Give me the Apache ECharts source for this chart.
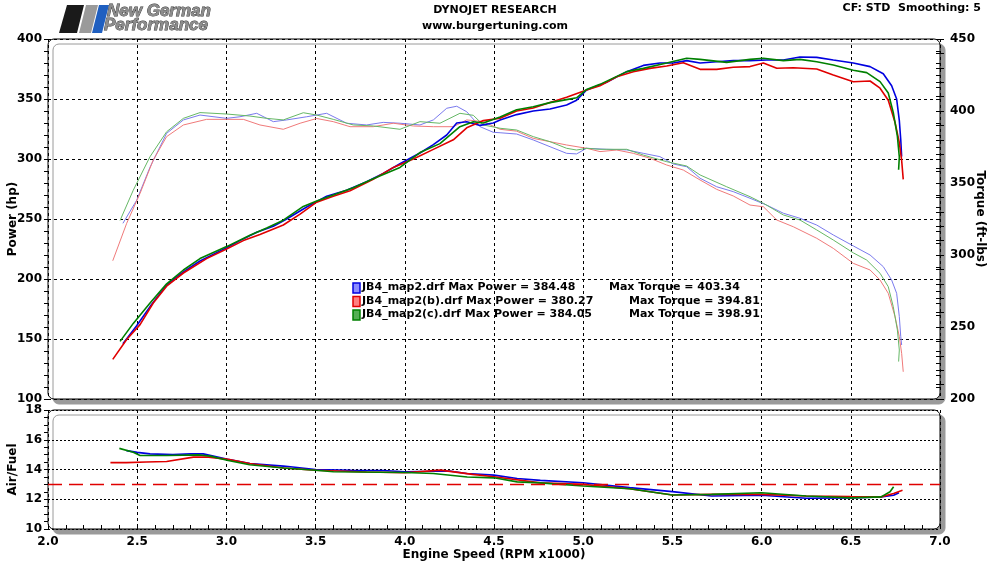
<!DOCTYPE html>
<html><head><meta charset="utf-8">
<script src="https://cdn.jsdelivr.net/npm/echarts@6/dist/echarts.min.js"></script>
<style>html,body{margin:0;padding:0;background:#fff}#c{width:990px;height:562px}</style>
</head><body><div id="c"></div>
<script>
// ---------- data ----------
const runNames = ['JB4_map2.drf', 'JB4_map2(b).drf', 'JB4_map2(c).drf'];
const maxPower = ['384.48', '380.27', '384.05'];
const maxTorque = ['403.34', '394.81', '398.91'];

const blueRpm = [2.42,2.497,2.572,2.665,2.759,2.852,3.001,3.076,3.170,3.263,3.338,3.450,3.562,3.674,3.786,3.879,3.973,4.085,4.160,4.235,4.291,4.347,4.422,4.496,4.534,4.627,4.720,4.814,4.907,4.963,5.019,5.131,5.244,5.337,5.430,5.505,5.580,5.655,5.748,5.841,5.935,6.028,6.122,6.215,6.309,6.402,6.514,6.608,6.682,6.729,6.757,6.772,6.780,6.785];
const bluePower = [146,161,177,195,206,215,226,232,239,244,250,260,269,274,281,288,296,305,312,320,330,331,328,330,332.5,337,340,341.7,345,349,357.5,364,372.8,378,380,380,382,380,381,382,382,382.5,382.5,385,384.7,382.5,380,377,371,361,350,332,316,302];
const blueTorque = [322,338,361,384.5,393.8,397.2,394.9,396,398.4,392.6,393.8,396,398.4,391.5,390.3,392.1,391.5,390.3,393.8,401.9,403.3,399.5,389.1,385.2,384.9,384,379.9,375.2,370.6,370.2,374.1,373.4,373,370.6,368.3,363.2,361.3,353.3,347.4,344,339.4,334.7,329,325.5,320.8,313.9,306.3,300,291.9,282.6,273.4,257.2,243.3,237.5];

const redRpm = [2.363,2.441,2.516,2.590,2.665,2.759,2.889,3.001,3.095,3.188,3.319,3.413,3.506,3.599,3.693,3.823,3.936,4.048,4.160,4.272,4.347,4.440,4.534,4.627,4.720,4.814,4.907,5.019,5.094,5.188,5.281,5.374,5.468,5.561,5.655,5.748,5.841,5.935,6.010,6.085,6.178,6.309,6.402,6.514,6.608,6.664,6.710,6.748,6.772,6.785,6.794];
const redPower = [133,149.6,162,180,194,205,217,225,232,237,245,254,264,269,273.6,283,293,300,308,316,326,332,334,340,342.5,347,351.5,357.5,361,368.6,372.7,375.5,377.5,380.2,374.7,374.7,376.4,377,380,375.6,376,375,370,364.4,365,359,349,330.5,313.7,299,283];
const redTorque = [296,322,342.8,366,382.2,390.3,394.2,394.2,394.2,390.3,387.3,391.5,394.8,392.6,389.1,389.1,391.5,389.6,389.1,389.1,393.8,392.6,387.3,386,381,378.7,376.4,374.1,371.8,372.9,370.6,367.2,362.5,359,352.1,345.6,341,334.7,333.5,324.3,319.6,311.6,304.6,294.2,289.6,282.6,273.4,257.2,243.3,231.7,218.9];

const greenRpm = [2.404,2.478,2.572,2.665,2.759,2.852,3.001,3.132,3.226,3.319,3.431,3.506,3.599,3.711,3.823,3.973,4.085,4.197,4.309,4.384,4.440,4.534,4.627,4.720,4.814,4.907,4.963,5.019,5.094,5.244,5.337,5.468,5.580,5.655,5.804,5.935,6.010,6.122,6.215,6.309,6.402,6.514,6.589,6.664,6.710,6.738,6.761,6.772,6.768];
const greenPower = [148,163,180,196,207.5,217,227,236.5,242.5,249,260.5,265,270,276,283.6,293,305.4,312.8,326.9,331,330,335,341,343.5,347,349.5,351,358,362.2,372.8,375.5,380,384,383,380.5,383,384,382,383,381,378.4,374,372,364.5,355,338.8,319,301.7,291];
const greenTorque = [324,345,368.3,385.6,394.9,398.9,397.9,396.5,394.9,393.8,398.8,397.2,394.2,390.3,389.6,387.3,392.6,391.5,398.4,397,390.3,388,386.8,382.2,378.7,374.1,372.9,374.1,373.4,373.4,369.4,364.8,361.8,355.6,347.4,340.5,335.9,327.8,324.3,317.4,310.4,301.5,296.5,287.3,278,264.1,248,234,226];

const blueAfrRpm = [2.44,2.50,2.572,2.70,2.80,2.87,3.007,3.132,3.32,3.5,3.70,3.879,4.0,4.159,4.25,4.347,4.5,4.63,4.76,5.0,5.26,5.5,5.72,6.0,6.25,6.5,6.67,6.74,6.77];
const blueAfr = [15.27,15.15,15.05,15.0,15.05,15.05,14.68,14.4,14.23,14.0,13.95,13.93,13.85,13.88,13.9,13.73,13.62,13.4,13.27,13.11,12.78,12.51,12.22,12.27,12.07,12.09,12.16,12.27,12.44];
const redAfrRpm = [2.35,2.44,2.55,2.665,2.815,2.90,3.01,3.13,3.32,3.5,3.786,4.0,4.2,4.38,4.5,4.76,5.0,5.26,5.5,5.72,6.0,6.25,6.5,6.67,6.74,6.79];
const redAfr = [14.46,14.46,14.5,14.54,14.83,14.83,14.68,14.4,14.1,13.95,13.83,13.78,13.96,13.67,13.51,13.1,13.0,12.71,12.29,12.33,12.33,12.22,12.18,12.16,12.38,12.6];
const greenAfrRpm = [2.40,2.478,2.516,2.665,2.85,2.91,3.01,3.13,3.32,3.5,3.6,4.0,4.16,4.35,4.5,4.63,4.76,5.0,5.26,5.5,5.72,6.0,6.25,6.5,6.67,6.72,6.74];
const greenAfr = [15.42,15.16,14.94,14.94,14.98,14.9,14.6,14.32,14.1,13.95,13.85,13.8,13.73,13.5,13.44,13.17,13.1,12.89,12.71,12.29,12.33,12.44,12.22,12.09,12.16,12.5,12.84];

const afrTarget = 13;

const xRange = [2.0, 7.0, 0.5];
const powerRange = [100, 400, 50];
const torqueRange = [200, 450, 50];
const afrRange = [10, 18, 2];

const headerTitle = 'DYNOJET RESEARCH';
const headerSite = 'www.burgertuning.com';
const headerRight = 'CF: STD  Smoothing: 5';

// ---------- chart ----------
const FONT = '"DejaVu Sans", Verdana, sans-serif';
const zip = (a, b) => a.map((v, i) => [v, b[i]]);

const powerColors = ['#0000e0', '#e00000', '#008000'];
const torqueColors = ['#7a7aee', '#f07a7a', '#66b866'];
const legendFill = ['#8c8cff', '#ff8080', '#55b055'];

const runs = [
  {rpm: blueRpm, p: bluePower, t: blueTorque, arpm: blueAfrRpm, a: blueAfr},
  {rpm: redRpm, p: redPower, t: redTorque, arpm: redAfrRpm, a: redAfr},
  {rpm: greenRpm, p: greenPower, t: greenTorque, arpm: greenAfrRpm, a: greenAfr}
];

const series = [];
runs.forEach((r, i) => {
  series.push({type: 'line', xAxisIndex: 0, yAxisIndex: 1, data: zip(r.rpm, r.t),
    showSymbol: false, lineStyle: {width: 1, color: torqueColors[i]}, z: 3});
});
runs.forEach((r, i) => {
  series.push({type: 'line', xAxisIndex: 0, yAxisIndex: 0, data: zip(r.rpm, r.p),
    showSymbol: false, lineStyle: {width: 1.6, color: powerColors[i]}, z: 4});
});
runs.forEach((r, i) => {
  const s = {type: 'line', xAxisIndex: 1, yAxisIndex: 2, data: zip(r.arpm, r.a),
    showSymbol: false, lineStyle: {width: 1.6, color: powerColors[i]}, z: 4};
  if (i === 1) {
    s.markLine = {silent: true, symbol: ['none', 'none'], label: {show: false},
      lineStyle: {color: '#e00000', width: 1.4, type: [14, 7]},
      data: [{yAxis: afrTarget}]};
  }
  series.push(s);
});

const dashed = {show: true, lineStyle: {color: '#000', width: 1, type: [3, 3]}};
const dotted = {show: true, lineStyle: {color: '#000', width: 1, type: [2, 2]}};
const lbl = {color: '#000', fontFamily: FONT, fontWeight: 'bold', fontSize: 12};
const nameSty = {color: '#000', fontFamily: FONT, fontWeight: 'bold', fontSize: 12};

const legendGraphics = [];
runNames.forEach((n, i) => {
  const y = 283 + i * 13.5;
  legendGraphics.push({type: 'rect', shape: {x: 353, y: y, width: 7, height: 10},
    style: {fill: legendFill[i], stroke: powerColors[i], lineWidth: 1.5}, z: 20});
  legendGraphics.push({type: 'text', x: 362, y: y - 1, z: 20,
    style: {text: n + ' Max Power = ' + maxPower[i], fill: '#000',
      fontFamily: FONT, fontWeight: 'bold', fontSize: 11}});
  legendGraphics.push({type: 'text', x: i === 0 ? 609 : 629, y: y - 1, z: 20,
    style: {text: 'Max Torque = ' + maxTorque[i], fill: '#000',
      fontFamily: FONT, fontWeight: 'bold', fontSize: 11}});
});

const frame = (x, y, w, h) => ({type: 'rect', z: -10,
  shape: {x: x, y: y, width: w, height: h, r: 6},
  style: {fill: '#fff', stroke: '#000', lineWidth: 1,
    shadowColor: '#9a9a9a', shadowOffsetX: 5, shadowOffsetY: 5, shadowBlur: 0}});

const graphics = [
  frame(48, 39, 892, 360),
  frame(48, 410, 892, 119),
  // logo
  {type: 'polygon', shape: {points: [[67,5],[84,5],[77,33],[59,33]]}, style: {fill: '#1a1a1a'}},
  {type: 'polygon', shape: {points: [[86,5],[98,5],[91,33],[79,33]]}, style: {fill: '#9a9a9a'}},
  {type: 'polygon', shape: {points: [[99,5],[109,5],[102,33],[92,33]]}, style: {fill: '#1f5fc0'}},
  {type: 'text', x: 107, y: 3, style: {text: 'New German', fill: '#8c8c8c', stroke: '#333', lineWidth: 0.8,
    fontFamily: '"Liberation Sans", Arial, sans-serif', fontStyle: 'italic', fontWeight: 'bold', fontSize: 17}},
  {type: 'text', x: 104, y: 17, style: {text: 'Performance', fill: '#8c8c8c', stroke: '#333', lineWidth: 0.8,
    fontFamily: '"Liberation Sans", Arial, sans-serif', fontStyle: 'italic', fontWeight: 'bold', fontSize: 17}},
  // header
  {type: 'text', x: 495, y: 10, style: {text: headerTitle, fill: '#000', align: 'center', verticalAlign: 'middle',
    fontFamily: FONT, fontWeight: 'bold', fontSize: 11}},
  {type: 'text', x: 495, y: 26, style: {text: headerSite, fill: '#000', align: 'center', verticalAlign: 'middle',
    fontFamily: FONT, fontWeight: 'bold', fontSize: 11}},
  {type: 'text', x: 981, y: 8, style: {text: headerRight, fill: '#000', align: 'right', verticalAlign: 'middle',
    fontFamily: FONT, fontWeight: 'bold', fontSize: 11}}
].concat(legendGraphics);

const option = {
  animation: false,
  backgroundColor: '#fff',
  grid: [
    {left: 48, top: 39, width: 892, height: 360, containLabel: false, outerBoundsMode: 'none'},
    {left: 48, top: 410, width: 892, height: 119, containLabel: false, outerBoundsMode: 'none'}
  ],
  xAxis: [
    {gridIndex: 0, type: 'value', min: xRange[0], max: xRange[1], interval: xRange[2],
      axisLabel: {show: false}, axisLine: {show: false}, axisTick: {show: false}, splitLine: dashed},
    {gridIndex: 1, type: 'value', min: xRange[0], max: xRange[1], interval: xRange[2],
      axisLabel: Object.assign({formatter: v => v.toFixed(1), margin: 7}, lbl),
      axisLine: {show: false},
      axisTick: {show: true, inside: true, length: 4, lineStyle: {color: '#000'}},
      minorTick: {show: true, splitNumber: 5, length: 4, lineStyle: {color: '#000'}},
      splitLine: dashed,
      name: 'Engine Speed (RPM x1000)', nameLocation: 'middle', nameGap: 20, nameMoveOverlap: false, nameTextStyle: nameSty}
  ],
  yAxis: [
    {gridIndex: 0, type: 'value', min: powerRange[0], max: powerRange[1], interval: powerRange[2],
      axisLabel: Object.assign({margin: 6}, lbl), axisLine: {show: false},
      axisTick: {show: true, length: 4, lineStyle: {color: '#000'}},
      minorTick: {show: true, splitNumber: 5, length: 4, lineStyle: {color: '#000'}},
      splitLine: dashed,
      name: 'Power (hp)', nameLocation: 'middle', nameGap: 29, nameMoveOverlap: false, nameTextStyle: nameSty},
    {gridIndex: 0, type: 'value', position: 'right', min: torqueRange[0], max: torqueRange[1], interval: torqueRange[2],
      axisLabel: Object.assign({margin: 10}, lbl), axisLine: {show: false},
      axisTick: {show: true, length: 4, lineStyle: {color: '#000'}},
      minorTick: {show: true, splitNumber: 5, length: 4, lineStyle: {color: '#000'}},
      splitLine: {show: false},
      name: 'Torque (ft-lbs)', nameLocation: 'middle', nameGap: 34, nameRotate: -90, nameMoveOverlap: false, nameTextStyle: nameSty},
    {gridIndex: 1, type: 'value', min: afrRange[0], max: afrRange[1], interval: afrRange[2],
      axisLabel: Object.assign({margin: 6}, lbl), axisLine: {show: false},
      axisTick: {show: true, length: 4, lineStyle: {color: '#000'}},
      minorTick: {show: true, splitNumber: 4, length: 4, lineStyle: {color: '#000'}},
      splitLine: dotted,
      name: 'Air/Fuel', nameLocation: 'middle', nameGap: 29, nameMoveOverlap: false, nameTextStyle: nameSty},
    // inner halves of the crossing ticks
    {gridIndex: 0, type: 'value', min: powerRange[0], max: powerRange[1], interval: powerRange[2],
      axisLabel: {show: false}, axisLine: {show: false}, splitLine: {show: false},
      axisTick: {show: true, inside: true, length: 4, lineStyle: {color: '#000'}},
      minorTick: {show: true, splitNumber: 5, length: 4, lineStyle: {color: '#000'}}},
    {gridIndex: 0, type: 'value', position: 'right', min: torqueRange[0], max: torqueRange[1], interval: torqueRange[2],
      axisLabel: {show: false}, axisLine: {show: false}, splitLine: {show: false},
      axisTick: {show: true, inside: true, length: 4, lineStyle: {color: '#000'}},
      minorTick: {show: true, splitNumber: 5, length: 4, lineStyle: {color: '#000'}}}
  ],
  graphic: graphics,
  series: series
};

const chart = echarts.init(document.getElementById('c'), null, {renderer: 'canvas'});
chart.setOption(option);
</script>
</body></html>
